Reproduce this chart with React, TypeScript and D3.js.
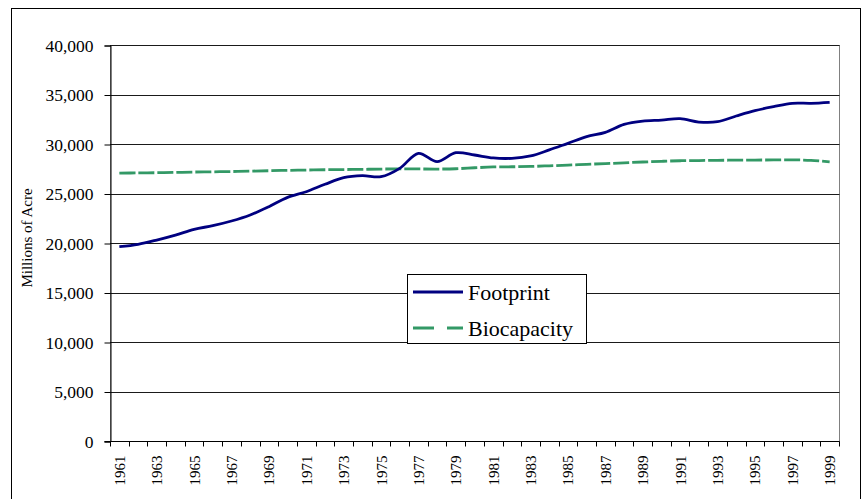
import React, { useEffect, useRef } from 'react'
import * as d3 from 'd3'

const years = d3.range(1961, 2000).map(String)

const footprint = [
  19630, 19870, 20300, 20800, 21380, 21750, 22220, 22830, 23670, 24610,
  25180, 25930, 26600, 26800, 26700, 27540, 29060, 28220, 29120, 28890,
  28590, 28550, 28790, 29400, 30070, 30740, 31180, 31990, 32320, 32420,
  32560, 32220, 32250, 32830, 33370, 33770, 34110, 34110, 34210,
]

const biocapacity = [
  27050, 27080, 27100, 27130, 27170, 27190, 27220, 27260, 27300, 27340,
  27370, 27400, 27420, 27440, 27470, 27490, 27480, 27470, 27500, 27600,
  27680, 27700, 27730, 27800, 27870, 27950, 28020, 28100, 28180, 28250,
  28310, 28330, 28350, 28370, 28380, 28390, 28400, 28350, 28200,
]

const yTicks = [0, 5000, 10000, 15000, 20000, 25000, 30000, 35000, 40000]

const seriesNames = ['Footprint', 'Biocapacity']

export default function App() {
  const ref = useRef<SVGSVGElement | null>(null)

  useEffect(() => {
    const svg = d3.select(ref.current)
    svg.selectAll('*').remove()

    const left = 110, right = 839, top = 45, bottom = 441

    const x = d3.scaleBand<string>().domain(years).range([left, right]).padding(0)
    const y = d3.scaleLinear().domain([0, 40000]).range([bottom, top])
    const cx = (d: string) => (x(d) as number) + x.bandwidth() / 2

    // outer chart border
    svg.append('rect')
      .attr('x', 11.5).attr('y', 8.5)
      .attr('width', 849).attr('height', 520)
      .attr('fill', 'white').attr('stroke', '#000')

    // plot area border (gray)
    svg.append('rect')
      .attr('x', left + 0.5).attr('y', top + 0.5)
      .attr('width', right - left).attr('height', bottom - top)
      .attr('fill', 'none').attr('stroke', '#808080')

    // gridlines
    svg.append('g')
      .selectAll('line')
      .data(yTicks.filter(t => t > 0))
      .join('line')
      .attr('x1', left).attr('x2', right + 0.5)
      .attr('y1', d => Math.round(y(d)) + 0.5)
      .attr('y2', d => Math.round(y(d)) + 0.5)
      .attr('stroke', '#1a1a1a')

    // y axis
    const yAxis = svg.append('g')
      .attr('transform', `translate(${left + 0.5},0.5)`)
      .call(d3.axisLeft(y).tickValues(yTicks).tickSize(6).tickPadding(11)
        .tickFormat(d => d3.format(',')(d as number)))
    yAxis.select('.domain').attr('stroke', '#000')
    yAxis.selectAll('.tick line').attr('stroke', '#000')
    yAxis.selectAll('text')
      .attr('font-family', '"Liberation Serif", serif')
      .attr('font-size', 17.5)
      .attr('fill', '#000')

    // x axis
    const xAxis = svg.append('g')
      .attr('transform', `translate(0.5,${bottom + 0.5})`)
    xAxis.append('line')
      .attr('x1', left - 6).attr('x2', right)
      .attr('y1', 0).attr('y2', 0)
      .attr('stroke', '#000')
    xAxis.selectAll('line.tk')
      .data(d3.range(years.length + 1))
      .join('line')
      .attr('class', 'tk')
      .attr('x1', i => Math.round(left + i * x.bandwidth()))
      .attr('x2', i => Math.round(left + i * x.bandwidth()))
      .attr('y1', 0).attr('y2', 5)
      .attr('stroke', '#000')
    xAxis.selectAll('text')
      .data(years.filter((_, i) => i % 2 === 0))
      .join('text')
      .attr('transform', d => `translate(${cx(d) + 5},14) rotate(-90)`)
      .attr('text-anchor', 'end')
      .attr('font-family', '"Liberation Serif", serif')
      .attr('font-size', 15)
      .attr('fill', '#000')
      .text(d => d)

    // axis title
    svg.append('text')
      .attr('transform', 'translate(32,238) rotate(-90)')
      .attr('text-anchor', 'middle')
      .attr('font-family', '"Liberation Serif", serif')
      .attr('font-size', 15)
      .attr('fill', '#000')
      .text('Millions of Acre')

    const line = d3.line<number>()
      .x((_, i) => cx(years[i]))
      .y(d => y(d))
      .curve(d3.curveCatmullRom)

    svg.append('path')
      .datum(biocapacity)
      .attr('d', line)
      .attr('fill', 'none')
      .attr('stroke', '#339966')
      .attr('stroke-width', 2.8)
      .attr('stroke-dasharray', '16,3')

    svg.append('path')
      .datum(footprint)
      .attr('d', line)
      .attr('fill', 'none')
      .attr('stroke', '#000080')
      .attr('stroke-width', 2.8)

    // legend
    const lg = svg.append('g')
    lg.append('rect')
      .attr('x', 407.5).attr('y', 274.5)
      .attr('width', 179).attr('height', 69)
      .attr('fill', 'white').attr('stroke', '#000')
    const items = [
      { name: seriesNames[0], color: '#000080', dash: null, yy: 292 },
      { name: seriesNames[1], color: '#339966', dash: '21,13', yy: 328 },
    ]
    items.forEach(it => {
      lg.append('line')
        .attr('x1', 413).attr('x2', 463)
        .attr('y1', it.yy).attr('y2', it.yy)
        .attr('stroke', it.color)
        .attr('stroke-width', 2.8)
        .attr('stroke-dasharray', it.dash)
      lg.append('text')
        .attr('x', 468).attr('y', it.yy + 8)
        .attr('font-family', '"Liberation Serif", serif')
        .attr('font-size', 22)
        .attr('fill', '#000')
        .text(it.name)
    })
  }, [])

  return (
    <div style={{ position: 'absolute', left: 0, top: 0 }}>
      <svg ref={ref} width={862} height={499} style={{ display: 'block' }}></svg>
    </div>
  )
}
